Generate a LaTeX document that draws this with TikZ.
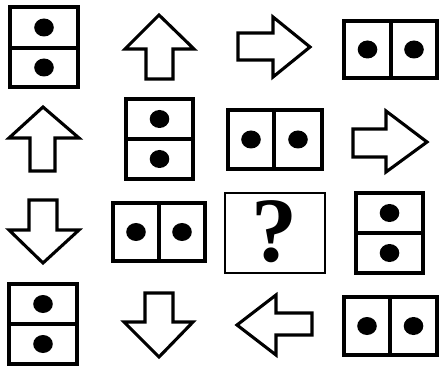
\documentclass[tikz,border=0pt]{standalone}
\usepackage{fontspec}
\setmainfont{Liberation Serif}
\begin{document}
\begin{tikzpicture}[x=1pt,y=-1pt,
  fig/.style={draw=black,line width=3.1pt,line join=miter,fill=white},
  dot/.style={fill=black},
  qbox/.style={draw=black,line width=1.8pt}]
\useasboundingbox (0,0) rectangle (439,366);
\newcommand{\vbx}[5]{%
  \draw[fig] (#1,#2) rectangle (#3,#4);
  \draw[fig] (#1,#5) -- (#3,#5);
  \fill[dot] ({(#1+#3)/2},{(#2+#5)/2}) ellipse (9.8 and 9);
  \fill[dot] ({(#1+#3)/2},{(#5+#4)/2}) ellipse (9.8 and 9);}
\newcommand{\hbx}[5]{%
  \draw[fig] (#1,#2) rectangle (#3,#4);
  \draw[fig] (#5,#2) -- (#5,#4);
  \fill[dot] ({(#1+#5)/2},{(#2+#4)/2}) ellipse (9.8 and 9);
  \fill[dot] ({(#5+#3)/2},{(#2+#4)/2}) ellipse (9.8 and 9);}
% Row 1
\vbx{10}{7}{78}{87}{48}
\draw[fig] (159,15) -- (194,49) -- (173,49) -- (173,79) -- (146,79) -- (146,49) -- (125,49) -- cycle;
\draw[fig] (310,47) -- (273,77) -- (273,60) -- (238,60) -- (238,33) -- (273,33) -- (273,17) -- cycle;
\hbx{344}{21}{437}{78}{391}
% Row 2
\draw[fig] (43,107) -- (79,138) -- (55,138) -- (55,171) -- (30,171) -- (30,138) -- (9,138) -- cycle;
\vbx{126}{99}{193}{179}{139}
\hbx{228}{110}{322}{169}{274}
\draw[fig] (427,142) -- (386,172) -- (386,157) -- (353,157) -- (353,129) -- (386,129) -- (386,111) -- cycle;
% Row 3
\draw[fig] (43,263) -- (79,230) -- (57,230) -- (57,200) -- (29,200) -- (29,230) -- (9,230) -- cycle;
\hbx{113}{203}{205}{261}{159}
\draw[qbox] (225,193) rectangle (325,273);
\node[font=\bfseries\fontsize{92}{92}\selectfont,inner sep=0pt] (q) at (274,232) {?};
\vbx{356}{193}{423}{273}{233}
% Row 4
\vbx{9}{284}{77}{364}{324}
\draw[fig] (159,357) -- (193,322) -- (173,322) -- (173,293) -- (145,293) -- (145,322) -- (124,322) -- cycle;
\draw[fig] (237,325) -- (276,295) -- (276,313) -- (312,313) -- (312,335) -- (276,335) -- (276,355) -- cycle;
\hbx{344}{297}{437}{355}{390}
\end{tikzpicture}
\end{document}
